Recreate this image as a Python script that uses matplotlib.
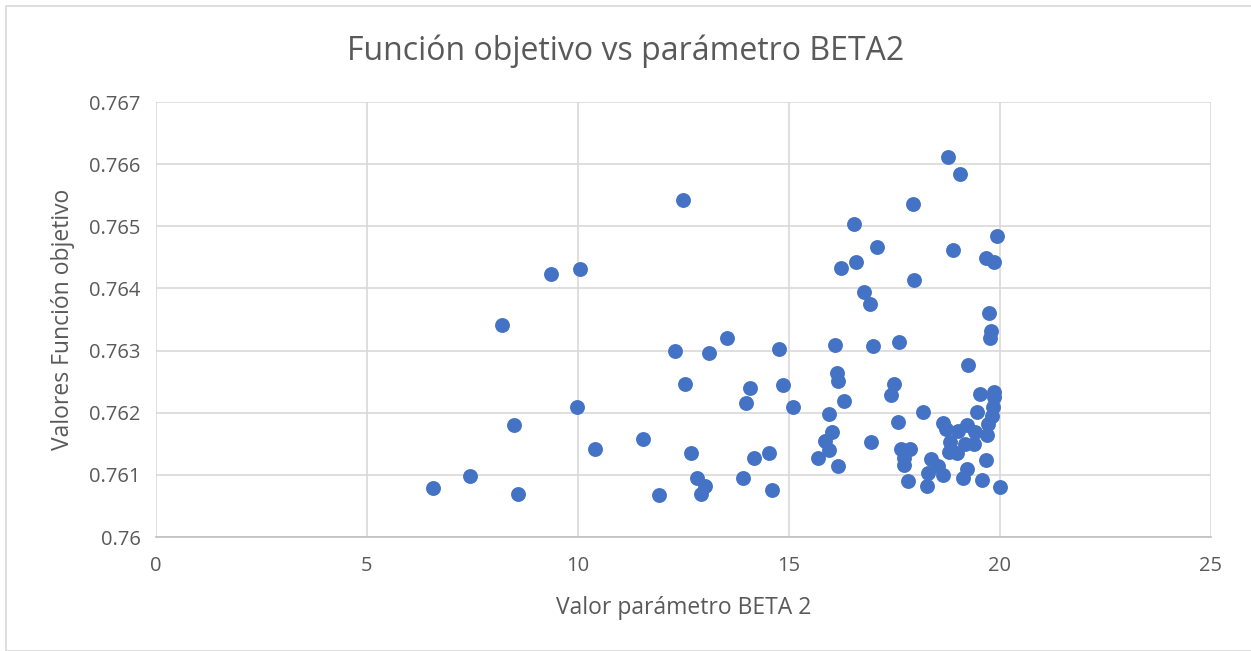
import matplotlib
matplotlib.use("Agg")
import matplotlib.pyplot as plt
from matplotlib.patches import Rectangle

# valores de BETA2 y de la funcion objetivo
beta2 = [12.50, 9.37, 10.05, 8.20, 12.29, 13.11, 13.53, 14.76, 12.54, 14.07,
         14.87, 13.99, 15.10, 9.98, 8.49, 10.40, 11.55, 12.67, 14.18, 14.53,
         7.45, 6.57, 8.58, 11.92, 12.83, 13.02, 12.92, 13.91, 14.59,
         18.76, 19.06, 17.95, 16.54, 19.94, 17.09, 18.89, 19.68, 19.87, 16.60,
         16.23, 17.96, 16.77, 16.92, 19.75, 19.79, 19.76, 16.08, 16.99, 17.60,
         19.25, 16.13, 16.15, 17.48, 17.42, 16.31, 19.53, 19.85, 19.87, 19.83,
         19.45, 18.18, 15.96, 19.82, 17.59, 19.71, 18.65, 18.71, 19.00, 19.22,
         19.40, 19.70, 16.02, 15.85, 16.94, 18.82, 19.16, 19.38, 18.80, 18.98,
         15.96, 17.65, 17.87, 15.69, 17.72, 17.72, 16.15, 19.68, 18.37, 18.53,
         18.29, 18.65, 19.22, 19.12, 19.58, 17.81, 18.27, 19.99]
fobj = [0.765417, 0.764232, 0.764313, 0.763414, 0.762992, 0.762955, 0.763209, 0.763031, 0.762468, 0.762398,
        0.762446, 0.762164, 0.762089, 0.762089, 0.761797, 0.761424, 0.761570, 0.761359, 0.761266, 0.761347,
        0.760979, 0.760784, 0.760687, 0.760677, 0.760942, 0.760828, 0.760687, 0.760942, 0.760763,
        0.766115, 0.765839, 0.765352, 0.765037, 0.764843, 0.764664, 0.764615, 0.764497, 0.764427, 0.764420,
        0.764323, 0.764135, 0.763945, 0.763755, 0.763604, 0.763323, 0.763209, 0.763089, 0.763073, 0.763138,
        0.762765, 0.762641, 0.762511, 0.762468, 0.762278, 0.762196, 0.762300, 0.762333, 0.762261, 0.762089,
        0.762008, 0.762013, 0.761976, 0.761943, 0.761846, 0.761818, 0.761834, 0.761737, 0.761709, 0.761802,
        0.761683, 0.761640, 0.761693, 0.761547, 0.761521, 0.761521, 0.761494, 0.761494, 0.761369, 0.761359,
        0.761396, 0.761424, 0.761424, 0.761277, 0.761277, 0.761153, 0.761141, 0.761239, 0.761250, 0.761141,
        0.761034, 0.760990, 0.761088, 0.760953, 0.760925, 0.760898, 0.760828, 0.760807]

xticks = [0, 5, 10, 15, 20, 25]
yticks = [0.760, 0.761, 0.762, 0.763, 0.764, 0.765, 0.766, 0.767]
yticklabels = ["0.76", "0.761", "0.762", "0.763", "0.764", "0.765", "0.766", "0.767"]

plt.rcParams['font.family'] = ['Open Sans', 'DejaVu Sans']
gris = '#595959'

fig = plt.figure(figsize=(12.51, 6.51), dpi=100)
ax = fig.add_axes([0.1247, 0.1751, 0.9680 - 0.1247, 0.8433 - 0.1751])

ax.scatter(beta2, fobj, s=115, color='#4472C4', linewidths=0, zorder=3)

ax.set_xlim(0, 25)
ax.set_ylim(0.760, 0.767)
ax.set_xticks(xticks)
ax.set_yticks(yticks)
ax.set_yticklabels(yticklabels)
ax.grid(True, color='#D9D9D9', linewidth=1.2)
ax.set_axisbelow(True)
for lado in ['top', 'right', 'left']:
    ax.spines[lado].set_visible(False)
ax.spines['bottom'].set_color('#BFBFBF')
ax.spines['bottom'].set_linewidth(1.2)
ax.tick_params(length=0, labelsize=14.5, labelcolor=gris, pad=14)
ax.tick_params(axis='y', pad=11)

ax.set_xlabel('Valor parámetro BETA 2', fontsize=16.5, color=gris, labelpad=14)
ax.set_ylabel('Valores Función objetivo', fontsize=16.5, color=gris, labelpad=10)
fig.text(0.5, 0.922, 'Función objetivo vs parámetro BETA2', ha='center', va='center',
         fontsize=23, color=gris)

# borde del grafico
fig.patches.append(Rectangle((0.005, 0.0), 1.2, 0.991, transform=fig.transFigure,
                             fill=False, edgecolor='#D9D9D9', linewidth=1.2))

fig.savefig('out.png', dpi=100)
